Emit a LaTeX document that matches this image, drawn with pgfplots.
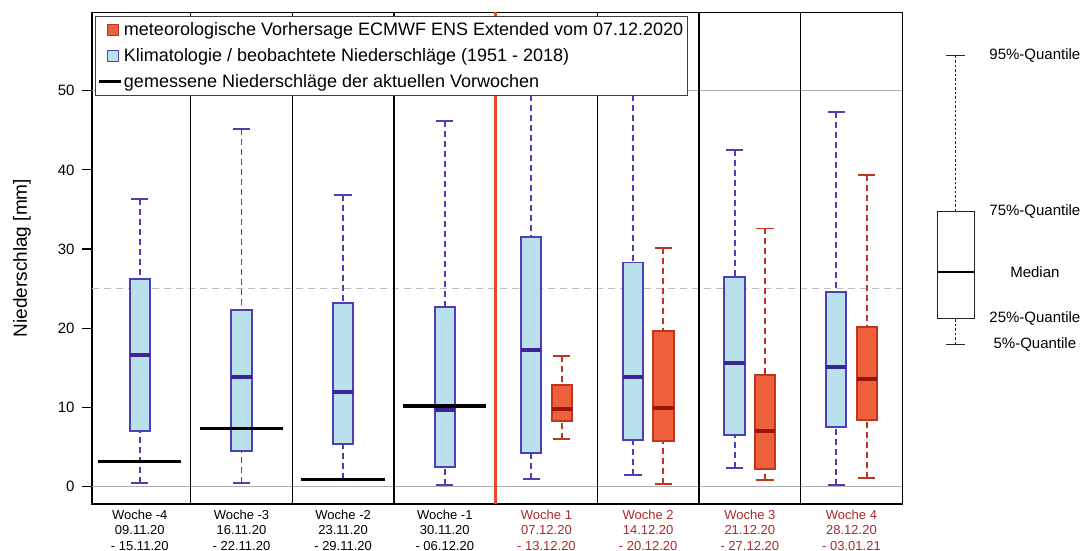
\documentclass[border=0pt]{standalone}
\usepackage{fontspec}
\setmainfont{Liberation Sans}
\usepackage{pgfplots}
\pgfplotsset{compat=1.18}
\usepgfplotslibrary{statistics}

\definecolor{boxblue}{RGB}{185,225,235}
\definecolor{edgeblue}{RGB}{78,62,184}
\definecolor{medblue}{RGB}{62,36,150}
\definecolor{redfill}{RGB}{238,96,58}
\definecolor{rededge}{RGB}{192,52,36}
\definecolor{redmed}{RGB}{150,22,12}
\definecolor{redline}{RGB}{232,72,40}
\definecolor{labred}{RGB}{170,42,42}
\definecolor{gridgray}{RGB}{175,175,175}

\pgfplotsset{
  /pgfplots/boxplot/wdash/.style={dash pattern=on 6pt off 4pt},
  /pgfplots/boxplot/wwidth/.style={line width=1.9pt},
  /pgfplots/boxplot/draw/lower whisker/.code={%
    \draw[/pgfplots/boxplot/every whisker/.try,/pgfplots/boxplot/wwidth,/pgfplots/boxplot/wdash]
      (boxplot box cs:\pgfplotsboxplotvalue{lower whisker},0.5) --
      (boxplot box cs:\pgfplotsboxplotvalue{lower quartile},0.5);
    \draw[/pgfplots/boxplot/every whisker/.try,/pgfplots/boxplot/wwidth,solid]
      (boxplot whisker cs:\pgfplotsboxplotvalue{lower whisker},0) --
      (boxplot whisker cs:\pgfplotsboxplotvalue{lower whisker},1);
  },
  /pgfplots/boxplot/draw/upper whisker/.code={%
    \draw[/pgfplots/boxplot/every whisker/.try,/pgfplots/boxplot/wwidth,/pgfplots/boxplot/wdash]
      (boxplot box cs:\pgfplotsboxplotvalue{upper whisker},0.5) --
      (boxplot box cs:\pgfplotsboxplotvalue{upper quartile},0.5);
    \draw[/pgfplots/boxplot/every whisker/.try,/pgfplots/boxplot/wwidth,solid]
      (boxplot whisker cs:\pgfplotsboxplotvalue{upper whisker},0) --
      (boxplot whisker cs:\pgfplotsboxplotvalue{upper whisker},1);
  },
  klima/.style n args={6}{forget plot, draw=edgeblue, fill=boxblue, line width=1.9pt,
    boxplot prepared={draw direction=y, draw position=#1, lower whisker=#2, lower quartile=#3,
      median=#4, upper quartile=#5, upper whisker=#6,
      box extend=0.2, whisker extend=0.17,
      every median/.style={draw=medblue, line width=4pt}}},
  prog/.style n args={6}{forget plot, draw=rededge, fill=redfill, line width=1.9pt,
    boxplot prepared={draw direction=y, draw position=#1, lower whisker=#2, lower quartile=#3,
      median=#4, upper quartile=#5, upper whisker=#6,
      box extend=0.2, whisker extend=0.17,
      every median/.style={draw=redmed, line width=4pt}}},
}

\begin{document}
\begin{tikzpicture}
\useasboundingbox (0,0) rectangle (1082pt,551pt);
\begin{axis}[
  at={(92pt,47pt)}, anchor=south west,
  scale only axis, width=810.3pt, height=491.7pt,
  xmin=-0.47, xmax=7.5, ymin=-2.2, ymax=59.9,
  axis line style={line width=1.3pt, black},
  xtick={0,...,7},
  xticklabels={
    {Woche -4\\09.11.20\\- 15.11.20},
    {Woche -3\\16.11.20\\- 22.11.20},
    {Woche -2\\23.11.20\\- 29.11.20},
    {Woche -1\\30.11.20\\- 06.12.20},
    {\textcolor{labred}{Woche 1}\\\textcolor{labred}{07.12.20}\\\textcolor{labred}{- 13.12.20}},
    {\textcolor{labred}{Woche 2}\\\textcolor{labred}{14.12.20}\\\textcolor{labred}{- 20.12.20}},
    {\textcolor{labred}{Woche 3}\\\textcolor{labred}{21.12.20}\\\textcolor{labred}{- 27.12.20}},
    {\textcolor{labred}{Woche 4}\\\textcolor{labred}{28.12.20}\\\textcolor{labred}{- 03.01.21}}},
  x tick label style={align=center, font=\fontsize{13}{15.5}\selectfont, inner sep=1pt, yshift=5.5pt},
  major x tick style={draw=none},
  ytick={0,10,...,50},
  y tick label style={font=\fontsize{15}{18}\selectfont, xshift=-4pt},
  /pgf/number format/assume math mode=true,
  ytick pos=left, tick align=outside, major tick length=10pt,
  major y tick style={line width=1.2pt, black},
  ylabel={Niederschlag [mm]},
  ylabel style={font=\fontsize{19}{22}\selectfont, at={(axis description cs:-0.0865,0.5)}, anchor=center},
  legend style={at={(0.0037,0.9925)}, anchor=north west, draw=black!75, line width=0.8pt,
    font=\fontsize{18}{21}\selectfont, row sep=9.5pt, inner xsep=2pt, inner ysep=5pt,
    nodes={inner xsep=2pt, inner ysep=1pt},
    cells={anchor=west}},
  legend image code/.code={\draw[#1] (9pt,-5.5pt) rectangle (20pt,5.5pt);},
]
% reference lines
\draw[gridgray, line width=1pt] (axis cs:-0.47,0) -- (axis cs:7.5,0);
\draw[gridgray, line width=1pt] (axis cs:-0.47,50) -- (axis cs:7.5,50);
\draw[gridgray!80, line width=1pt, dash pattern=on 7pt off 5pt] (axis cs:-0.47,25) -- (axis cs:7.5,25);
% panel separators
\pgfplotsinvokeforeach{0.5,1.5,2.5,4.5,5.5,6.5}{
  \draw[black, line width=1.3pt] (axis cs:#1,-2.2) -- (axis cs:#1,59.9);
}
\draw[redline, line width=2.6pt] (axis cs:3.5,-2.2) -- (axis cs:3.5,59.9);

% climatology boxes
\addplot[klima={0}{0.45}{7.0}{16.6}{26.2}{36.3}] coordinates {};
\addplot[klima={1}{0.45}{4.46}{13.9}{22.3}{45.2}] coordinates {};
\addplot[klima={2}{0.9}{5.43}{11.95}{23.2}{36.8}] coordinates {};
\addplot[klima={3}{0.17}{2.44}{9.7}{22.7}{46.2}] coordinates {};
\addplot[klima={3.85}{1.0}{4.25}{17.3}{31.5}{57}] coordinates {};
\addplot[klima={4.85}{1.47}{5.85}{13.9}{28.3}{49.4}] coordinates {};
\addplot[klima={5.85}{2.32}{6.52}{15.66}{26.5}{42.5}] coordinates {};
\addplot[klima={6.85}{0.25}{7.57}{15.1}{24.6}{47.3}] coordinates {};
% forecast boxes
\addplot[prog={4.15}{6.06}{8.33}{9.76}{12.8}{16.5}] coordinates {};
\addplot[prog={5.15}{0.34}{5.8}{9.9}{19.6}{30.1}] coordinates {};
\addplot[prog={6.15}{0.84}{2.23}{7.0}{14.1}{32.6}] coordinates {};
\addplot[prog={7.15}{1.05}{8.46}{13.6}{20.2}{39.3}] coordinates {};

% measured precipitation of previous weeks
\addplot[forget plot, black, line width=3.4pt] coordinates {(-0.41,3.2) (0.41,3.2)};
\addplot[forget plot, black, line width=3.4pt] coordinates {(0.59,7.3) (1.41,7.3)};
\addplot[forget plot, black, line width=3.4pt] coordinates {(1.59,0.86) (2.41,0.86)};
\addplot[forget plot, black, line width=3.4pt] coordinates {(2.59,10.17) (3.41,10.17)};

% legend
\addlegendimage{draw=rededge, fill=redfill, line width=0.8pt}
\addlegendentry{meteorologische Vorhersage ECMWF ENS Extended vom 07.12.2020}
\addlegendimage{draw=edgeblue, fill=boxblue, line width=0.8pt}
\addlegendentry{Klimatologie / beobachtete Niederschläge (1951 - 2018)}
\addlegendimage{legend image code/.code={\draw[black, line width=2.6pt] (0pt,0pt) -- (22pt,0pt);}}
\addlegendentry{gemessene Niederschläge der aktuellen Vorwochen}
\end{axis}

% explanatory box plot
\begin{axis}[
  at={(935.7pt,47pt)}, anchor=south west,
  scale only axis, width=40pt, height=491.7pt,
  xmin=-0.5, xmax=0.5, ymin=-2.2, ymax=59.9,
  hide axis, clip=false,
]
\addplot[forget plot, draw=black!85, fill=white, line width=1pt,
  boxplot prepared={draw direction=y, draw position=0, lower whisker=17.95, lower quartile=21.2,
    median=27.1, upper quartile=34.7, upper whisker=54.4,
    box extend=0.92, whisker extend=0.48,
    wdash/.style={dash pattern=on 2.5pt off 2pt},
    wwidth/.style={line width=1pt},
    every median/.style={draw=black, line width=2.6pt}}] coordinates {};
\node[font=\fontsize{15}{18}\selectfont] at (axis cs:1.98,54.4) {95\%-Quantile};
\node[font=\fontsize{15}{18}\selectfont] at (axis cs:1.98,34.7) {75\%-Quantile};
\node[font=\fontsize{15}{18}\selectfont] at (axis cs:1.98,27.1) {Median};
\node[font=\fontsize{15}{18}\selectfont] at (axis cs:1.98,21.2) {25\%-Quantile};
\node[font=\fontsize{15}{18}\selectfont] at (axis cs:1.98,17.9) {5\%-Quantile};
\end{axis}
\end{tikzpicture}
\end{document}
